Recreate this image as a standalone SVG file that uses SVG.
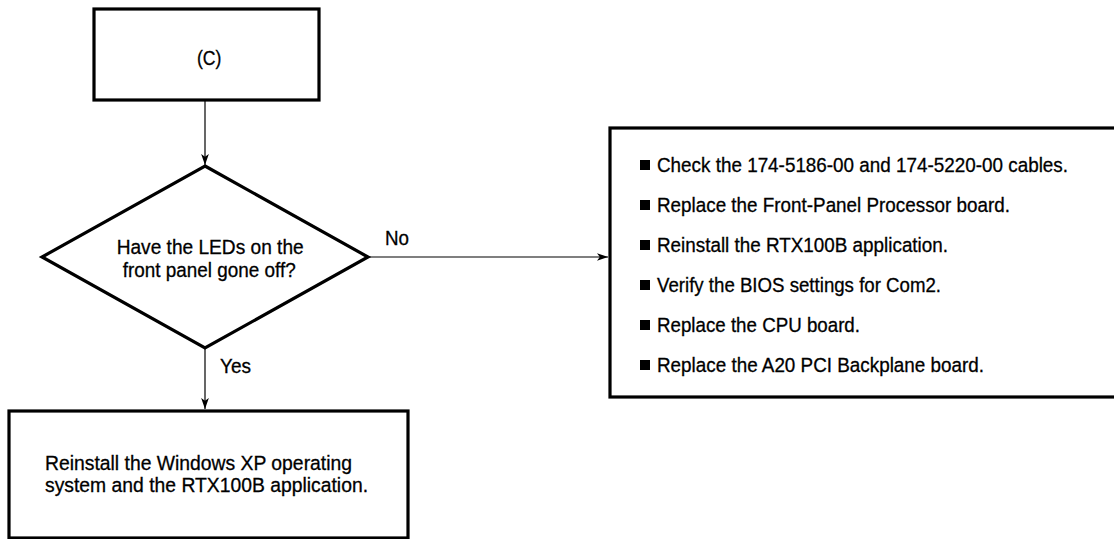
<svg xmlns="http://www.w3.org/2000/svg" width="1114" height="539" viewBox="0 0 1114 539">
<defs>
<style>
.box{fill:#fff;stroke:#000;stroke-width:3.2;stroke-linejoin:miter}
.t{font-family:"Liberation Sans",Arial,sans-serif;font-size:20.5px;fill:#000;stroke:#000;stroke-width:0.3}
.m{text-anchor:middle}
.c{stroke:#000;stroke-width:1.2;fill:none}
</style>
<marker id="ah" viewBox="0 0 10 10" refX="10" refY="5" markerWidth="11" markerHeight="11" markerUnits="userSpaceOnUse" orient="auto">
<path d="M0,1.5 L10,5 L0,8.5 L2.5,5 Z" fill="#000"/>
</marker>
</defs>
<rect width="1114" height="539" fill="#fff"/>
<g id="connectors">
<line class="c" x1="205" y1="101" x2="205" y2="165" marker-end="url(#ah)"/>
<line class="c" x1="368" y1="257" x2="608" y2="257" marker-end="url(#ah)"/>
<text class="t" x="385" y="245" textLength="24" lengthAdjust="spacingAndGlyphs">No</text>
<line class="c" x1="205" y1="348" x2="205" y2="409" marker-end="url(#ah)"/>
<text class="t" x="220" y="373" textLength="31" lengthAdjust="spacingAndGlyphs">Yes</text>
</g>
<g id="node-c">
<rect class="box" x="94" y="9" width="225" height="91"/>
<text class="t" x="197" y="65" textLength="24.5" lengthAdjust="spacingAndGlyphs">(C)</text>
</g>
<g id="node-decision">
<polygon class="box" points="205,166 368,257 205,348 42,257"/>
<text class="t" x="116.7" y="254" textLength="187" lengthAdjust="spacingAndGlyphs">Have the LEDs on the</text>
<text class="t" x="122.7" y="277" textLength="173" lengthAdjust="spacingAndGlyphs">front panel gone off?</text>
</g>
<g id="node-no">
<rect class="box" x="610" y="128" width="520" height="269"/>
<g fill="#000">
<rect x="640" y="160" width="10" height="10"/>
<rect x="640" y="200" width="10" height="10"/>
<rect x="640" y="240" width="10" height="10"/>
<rect x="640" y="280" width="10" height="10"/>
<rect x="640" y="320" width="10" height="10"/>
<rect x="640" y="360" width="10" height="10"/>
</g>
<text class="t" x="657" y="172" textLength="411" lengthAdjust="spacingAndGlyphs">Check the 174-5186-00 and 174-5220-00 cables.</text>
<text class="t" x="657" y="212" textLength="353" lengthAdjust="spacingAndGlyphs">Replace the Front-Panel Processor board.</text>
<text class="t" x="657" y="252" textLength="291" lengthAdjust="spacingAndGlyphs">Reinstall the RTX100B application.</text>
<text class="t" x="657" y="292" textLength="284" lengthAdjust="spacingAndGlyphs">Verify the BIOS settings for Com2.</text>
<text class="t" x="657" y="332" textLength="203" lengthAdjust="spacingAndGlyphs">Replace the CPU board.</text>
<text class="t" x="657" y="372" textLength="327" lengthAdjust="spacingAndGlyphs">Replace the A20 PCI Backplane board.</text>
</g>
<g id="node-yes">
<rect class="box" x="9" y="411" width="399" height="127"/>
<text class="t" x="45" y="470" textLength="307" lengthAdjust="spacingAndGlyphs">Reinstall the Windows XP operating</text>
<text class="t" x="45" y="492" textLength="323" lengthAdjust="spacingAndGlyphs">system and the RTX100B application.</text>
</g>
</svg>
